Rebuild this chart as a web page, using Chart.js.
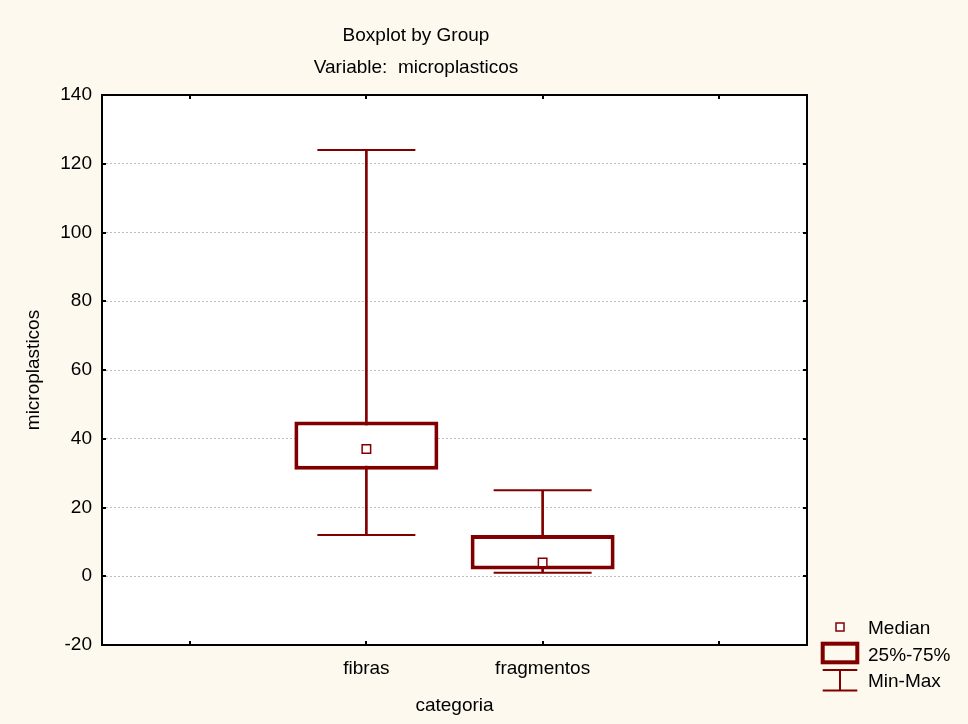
<!DOCTYPE html>
<html>
<head>
<meta charset="utf-8">
<script src="https://cdn.jsdelivr.net/npm/chart.js@4/dist/chart.umd.min.js"></script>
<style>
  html, body { margin: 0; padding: 0; background: #fdf9ef; }
  #wrap { width: 968px; height: 724px; }
</style>
</head>
<body>
<div id="wrap"><canvas id="chart" width="968" height="724"></canvas></div>
<script>
// Box plot summary per group
const categories = ['fibras', 'fragmentos'];
const minimum    = [12, 1];
const quartile1  = [31, 2];
const median     = [37, 4];
const quartile3  = [45, 12];
const maximum    = [124, 25];
const yTicks     = [-20, 0, 20, 40, 60, 80, 100, 120, 140];

const MAROON = '#800000';
const CREAM = '#fdf9ef';
const FONT_FAMILY = "'Liberation Sans', Arial, sans-serif";
const FONT_SIZE = 19;

// x slots: an empty slot on each side of the groups
const xLabels = ['', ...categories, ''];

const pairs = (vals) => categories.map((c, i) => ({ x: c, y: vals[i] }));
const ranges = (lo, hi) => categories.map((c, i) => ({ x: c, y: [lo[i], hi[i]] }));

// Background, frame, inward ticks, titles and legend
const decorPlugin = {
  id: 'decor',
  beforeDraw(chart) {
    const { ctx, chartArea: a, width, height } = chart;
    ctx.save();
    ctx.fillStyle = CREAM;
    ctx.fillRect(0, 0, width, height);
    ctx.fillStyle = '#ffffff';
    ctx.fillRect(a.left, a.top, a.right - a.left, a.bottom - a.top);
    ctx.restore();
  },
  afterDraw(chart) {
    const { ctx, chartArea: a } = chart;
    const xs = chart.scales.x, ys = chart.scales.y;
    ctx.save();
    ctx.strokeStyle = '#000';
    ctx.lineWidth = 2;
    ctx.strokeRect(a.left, a.top, a.right - a.left, a.bottom - a.top);

    // inward tick marks
    const T = 4;
    ctx.beginPath();
    ys.ticks.forEach(t => {
      if (t.value === ys.min || t.value === ys.max) return;
      const y = Math.round(ys.getPixelForValue(t.value));
      ctx.moveTo(a.left, y); ctx.lineTo(a.left + T, y);
      ctx.moveTo(a.right, y); ctx.lineTo(a.right - T, y);
    });
    xs.ticks.forEach((t, i) => {
      const x = Math.round(xs.getPixelForTick(i));
      ctx.moveTo(x, a.top); ctx.lineTo(x, a.top + T);
      ctx.moveTo(x, a.bottom); ctx.lineTo(x, a.bottom - T);
    });
    ctx.stroke();

    // titles
    ctx.fillStyle = '#000';
    ctx.font = FONT_SIZE + 'px ' + FONT_FAMILY;
    ctx.textAlign = 'center';
    ctx.textBaseline = 'middle';
    ctx.fillText('Boxplot by Group', 416, 36);
    ctx.fillText('Variable:  microplasticos', 416, 68);

    // legend
    ctx.strokeStyle = MAROON;
    ctx.fillStyle = '#ffffff';
    ctx.lineWidth = 1.5;
    ctx.fillRect(836, 623, 8, 8);
    ctx.strokeRect(836, 623, 8, 8);

    ctx.lineWidth = 4;
    ctx.strokeRect(822.7, 643.7, 34.6, 18.6);

    ctx.lineWidth = 2;
    ctx.beginPath();
    ctx.moveTo(822.7, 670); ctx.lineTo(857.3, 670);
    ctx.moveTo(822.7, 690.5); ctx.lineTo(857.3, 690.5);
    ctx.moveTo(840, 670); ctx.lineTo(840, 690.5);
    ctx.stroke();

    ctx.fillStyle = '#000';
    ctx.textAlign = 'left';
    ctx.fillText('Median', 868, 629);
    ctx.fillText('25%-75%', 868, 656);
    ctx.fillText('Min-Max', 868, 682);
    ctx.restore();
  }
};

Chart.defaults.font.family = FONT_FAMILY;
Chart.defaults.font.size = FONT_SIZE;
Chart.defaults.color = '#000';

new Chart(document.getElementById('chart'), {
  data: {
    labels: xLabels,
    datasets: [
      {
        type: 'line',
        label: 'Median',
        data: pairs(median),
        showLine: false,
        pointStyle: 'rect',
        pointRadius: 6,
        pointBackgroundColor: '#ffffff',
        pointBorderColor: MAROON,
        pointBorderWidth: 1.5
      },
      {
        type: 'bar',
        label: '25%-75%',
        data: ranges(quartile1, quartile3),
        grouped: false,
        backgroundColor: '#ffffff',
        borderColor: MAROON,
        borderWidth: 4,
        borderSkipped: false,
        barPercentage: 0.817,
        categoryPercentage: 1
      },
      {
        type: 'line',
        label: 'Max',
        data: pairs(maximum),
        showLine: false,
        pointStyle: 'line',
        pointRadius: 49,
        pointBorderColor: MAROON,
        pointBorderWidth: 2
      },
      {
        type: 'line',
        label: 'Min',
        data: pairs(minimum),
        showLine: false,
        pointStyle: 'line',
        pointRadius: 49,
        pointBorderColor: MAROON,
        pointBorderWidth: 2
      },
      {
        type: 'bar',
        label: 'Min-Max',
        data: ranges(minimum, maximum),
        grouped: false,
        backgroundColor: MAROON,
        borderWidth: 0,
        barThickness: 2
      }
    ]
  },
  options: {
    responsive: false,
    devicePixelRatio: 1,
    animation: false,
    events: [],
    layout: { padding: { top: 95, right: 161, bottom: 0, left: 0 } },
    plugins: {
      legend: { display: false },
      title: { display: false },
      tooltip: { enabled: false }
    },
    scales: {
      x: {
        type: 'category',
        offset: true,
        grid: { display: false, drawTicks: false },
        border: { display: false },
        ticks: { padding: 12, autoSkip: false, maxRotation: 0 },
        title: { display: true, text: 'categoria', padding: { top: 0, bottom: 6.6 } },
        afterFit(scale) { scale.height = 79; }
      },
      y: {
        type: 'linear',
        min: yTicks[0],
        max: yTicks[yTicks.length - 1],
        afterBuildTicks(scale) { scale.ticks = yTicks.map(v => ({ value: v })); },
        grid: {
          drawTicks: false,
          lineWidth: 1,
          color: (c) => (c.tick && (c.tick.value === yTicks[0] || c.tick.value === yTicks[yTicks.length - 1]))
            ? 'rgba(0,0,0,0)' : '#bdbdbd'
        },
        border: { display: false, dash: [2, 2] },
        ticks: { padding: 10 },
        title: { display: true, text: 'microplasticos', padding: { top: 22.6, bottom: 0 } },
        afterFit(scale) { scale.width = 102; }
      }
    }
  },
  plugins: [decorPlugin]
});
</script>
</body>
</html>
